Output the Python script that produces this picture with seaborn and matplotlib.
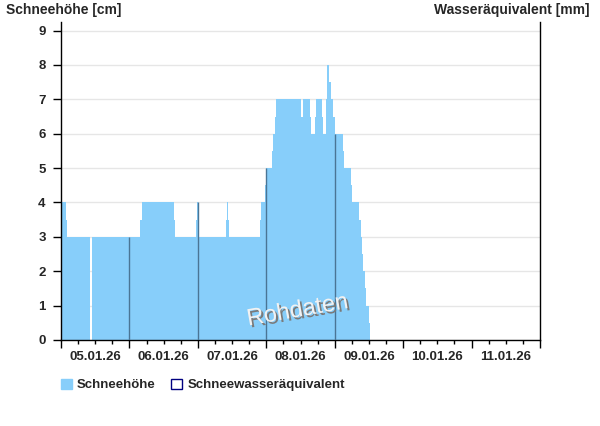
import numpy as np
import pandas as pd
import matplotlib
matplotlib.use("Agg")
import matplotlib.pyplot as plt
import matplotlib.patheffects as pe
from matplotlib.patches import Patch
from matplotlib.ticker import FixedLocator, FuncFormatter
import seaborn as sns

# Stufen der Schneehöhe: Grenzen in Stunden ab 05.01.26 00:00, Werte in cm
zeit_h = [0.0, 1.75, 2.1, 10.2, 10.8, 27.7, 28.4, 39.5, 40.0, 47.3, 47.8, 48.0,
          48.5, 57.9, 58.2, 58.5, 58.9, 69.8, 70.2, 71.5, 72.0, 73.9, 74.3, 75.1,
          75.4, 84.2, 84.9, 87.3, 87.7, 89.1, 89.4, 91.5, 92.0, 92.9, 93.3, 94.1,
          94.8, 95.5, 96.0, 98.8, 99.1, 101.6, 102.0, 104.6, 105.1, 105.6, 105.8,
          106.5, 107.0, 107.9, 108.4]
schnee_cm = [4.0, 3.5, 3.0, 0.0, 3.0, 3.5, 4.0, 3.5, 3.0, 3.5, 4.0, 3.5,
             3.0, 3.5, 4.0, 3.5, 3.0, 3.5, 4.0, 4.5, 5.0, 5.5, 6.0, 6.5,
             7.0, 6.5, 7.0, 6.5, 6.0, 6.5, 7.0, 6.5, 6.0, 7.0, 8.0, 7.5,
             7.0, 6.5, 6.0, 5.5, 5.0, 4.5, 4.0, 3.5, 3.0, 2.5, 2.0,
             1.5, 1.0, 0.5]

# Tageswerte (dunkle Linien um Mitternacht)
tages_h = [24, 48, 72, 96]
tages_cm = [3.0, 4.0, 5.0, 6.0]

tage = ["05.01.26", "06.01.26", "07.01.26", "08.01.26", "09.01.26", "10.01.26", "11.01.26"]

df = pd.DataFrame({
    "mitte": (np.array(zeit_h[:-1]) + np.array(zeit_h[1:])) / 2,
    "cm": schnee_cm,
})

sns.set_style("white")
plt.rcParams["font.family"] = ["Liberation Sans", "DejaVu Sans"]

fig = plt.figure(figsize=(6.0, 4.26), dpi=100)
ax = fig.add_axes([61 / 600, 86 / 426, 479 / 600, 318 / 426])

sns.histplot(data=df, x="mitte", weights="cm", bins=zeit_h, element="step",
             fill=True, color="#87CEFA", alpha=1, linewidth=0, ax=ax, zorder=2)
ax.vlines(tages_h, 0, tages_cm, color="#4a7595", linewidth=1, zorder=3)

ax.set_xlim(0, 168)
ax.set_ylim(0, 9.25)
ax.set_xlabel("")
ax.set_ylabel("")

# y-Achse
ax.set_yticks(range(0, 10))
ax.yaxis.grid(True, color="#e6e6e6", linewidth=1, zorder=0)
ax.set_axisbelow(True)
ax.tick_params(axis="y", left=True, length=6, width=1, color="black", pad=5,
               labelsize=9.5)
for lbl in ax.get_yticklabels():
    lbl.set_fontweight("bold")

# x-Achse: lange Striche um Mitternacht, kurze alle 6 h, Datum mittags
ax.xaxis.set_major_locator(FixedLocator(np.arange(0, 169, 24)))
ax.xaxis.set_minor_locator(FixedLocator([h for h in range(6, 168, 6) if h % 24]))
ax.xaxis.set_major_formatter(FuncFormatter(lambda v, p: ""))
ax.xaxis.set_minor_formatter(
    FuncFormatter(lambda v, p: tage[int(v) // 24] if int(v) % 24 == 12 else ""))
ax.tick_params(axis="x", which="major", bottom=True, length=6, width=1, color="black")
ax.tick_params(axis="x", which="minor", bottom=True, length=3, width=1, color="black",
               pad=5, labelsize=9.5)
for lbl in ax.get_xticklabels(minor=True):
    lbl.set_fontweight("bold")

for side in ["left", "bottom", "right"]:
    ax.spines[side].set_visible(True)
    ax.spines[side].set_color("black")
    ax.spines[side].set_linewidth(1)
ax.spines["top"].set_visible(False)

fig.text(6 / 600, 1 - 10 / 426, "Schneehöhe [cm]", fontsize=10, fontweight="bold",
         ha="left", va="center")
fig.text(590 / 600, 1 - 10 / 426, "Wasseräquivalent [mm]", fontsize=10,
         fontweight="bold", ha="right", va="center")

# Wasserzeichen
ax.text(83, 0.85, "Rohdaten", fontsize=17, rotation=10, color="#f2f2f2",
        ha="center", va="center", zorder=4,
        path_effects=[pe.withSimplePatchShadow(offset=(1.5, -1.5),
                                               shadow_rgbFace="#7a7a7a", alpha=1.0)])

handles = [Patch(facecolor="#87CEFA", edgecolor="#87CEFA", label="Schneehöhe"),
           Patch(facecolor="white", edgecolor="#000080", label="Schneewasseräquivalent")]
fig.legend(handles=handles, loc="center left", bbox_to_anchor=(61 / 600, 1 - 385 / 426),
           ncol=2, frameon=False, handlelength=0.8, handleheight=0.8,
           handletextpad=0.4, columnspacing=1.2, borderpad=0, borderaxespad=0,
           prop={"size": 9.5, "weight": "bold"})

fig.savefig("out.png", dpi=100)
